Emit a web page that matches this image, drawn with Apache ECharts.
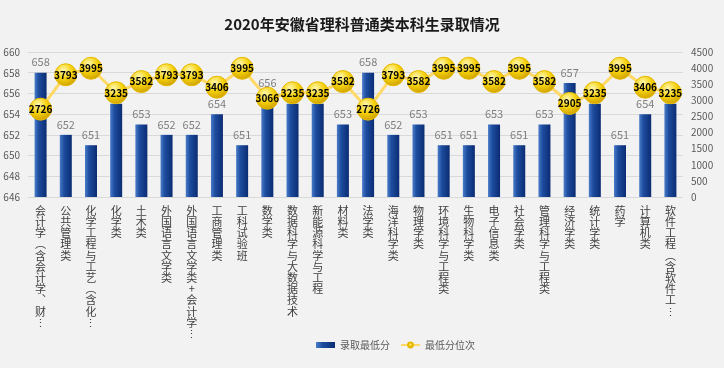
<!DOCTYPE html>
<html><head><meta charset="utf-8">
<script src="https://cdn.jsdelivr.net/npm/echarts@6/dist/echarts.min.js"></script>
<style>html,body{margin:0;padding:0;background:#f2f2f2}#c{width:724px;height:368px}</style>
</head><body><div id="c"></div>
<script>
const title = '2020年安徽省理科普通类本科生录取情况';
const categories = ['会计学（含会计学、财…','公共管理类','化学工程与工艺（含化…','化学类','土木类','外国语言文学类','外国语言文学类+会计学…','工商管理类','工科试验班','数学类','数据科学与大数据技术','新能源科学与工程','材料类','法学类','海洋科学类','物理学类','环境科学与工程类','生物科学类','电子信息类','社会学类','管理科学与工程类','经济学类','统计学类','药学','计算机类','软件工程（含软件工…'];
const minScore = [658,652,651,655,653,652,652,654,651,656,655,655,653,658,652,653,651,651,653,651,653,657,655,651,654,655];
const minRank = [2726,3793,3995,3235,3582,3793,3793,3406,3995,3066,3235,3235,3582,2726,3793,3582,3995,3995,3582,3995,3582,2905,3235,3995,3406,3235];
const seriesNames = ['录取最低分','最低分位次'];

const chart = echarts.init(document.getElementById('c'));
const font = '"Microsoft YaHei","Noto Sans CJK SC",sans-serif';
function vert(s){
  return s.replace(/（/g,'︵').replace(/…/g,'⋮').replace(/、/g,'︑').split('').join('\n');
}
chart.setOption({
  backgroundColor:'#f2f2f2',
  textStyle:{fontFamily:font},
  title:{text:title,left:'center',top:12,textStyle:{fontSize:15,fontWeight:'bold',color:'#1a1a1a',fontFamily:font}},
  legend:{bottom:13,left:311,itemGap:10,itemWidth:19,itemHeight:6,textStyle:{color:'#595959',fontSize:10},
    data:[{name:seriesNames[0],icon:'rect'},{name:seriesNames[1]}]},
  grid:{left:28,right:41,top:52,bottom:171},
  xAxis:{type:'category',data:categories,axisLine:{show:false},axisTick:{show:false},
    axisLabel:{interval:0,formatter:vert,fontSize:11,lineHeight:11.2,color:'#404040',verticalAlign:'top',margin:8}},
  yAxis:[
    {type:'value',min:646,max:660,interval:2,axisLabel:{color:'#595959',fontSize:10,margin:8},
      splitLine:{lineStyle:{color:'#d9d9d9'}},axisLine:{show:false}},
    {type:'value',min:0,max:4500,interval:500,axisLabel:{color:'#595959',fontSize:10,margin:8,formatter:v=>String(v)},
      splitLine:{show:false},axisLine:{show:false}}
  ],
  series:[
    {name:seriesNames[0],type:'bar',data:minScore,barWidth:12,yAxisIndex:0,
      itemStyle:{color:new echarts.graphic.LinearGradient(0,0,1,0,[{offset:0,color:'#4a7cc9'},{offset:0.35,color:'#1d4c9e'},{offset:1,color:'#0b2c73'}])},
      label:{show:true,position:'top',color:'#7f7f7f',fontSize:11,distance:5}},
    {name:seriesNames[1],type:'line',data:minRank,yAxisIndex:1,symbol:'circle',symbolSize:22,
      lineStyle:{color:'#ffd966',width:3},
      itemStyle:{color:new echarts.graphic.RadialGradient(0.4,0.3,0.75,[{offset:0,color:'#fff7b0'},{offset:0.5,color:'#f5d10a'},{offset:1,color:'#c99a00'}]),borderColor:'#e6b800',borderWidth:1},
      label:{show:true,position:'inside',color:'#000',fontSize:10,fontWeight:'bold'},z:5}
  ]
});
</script></body></html>
